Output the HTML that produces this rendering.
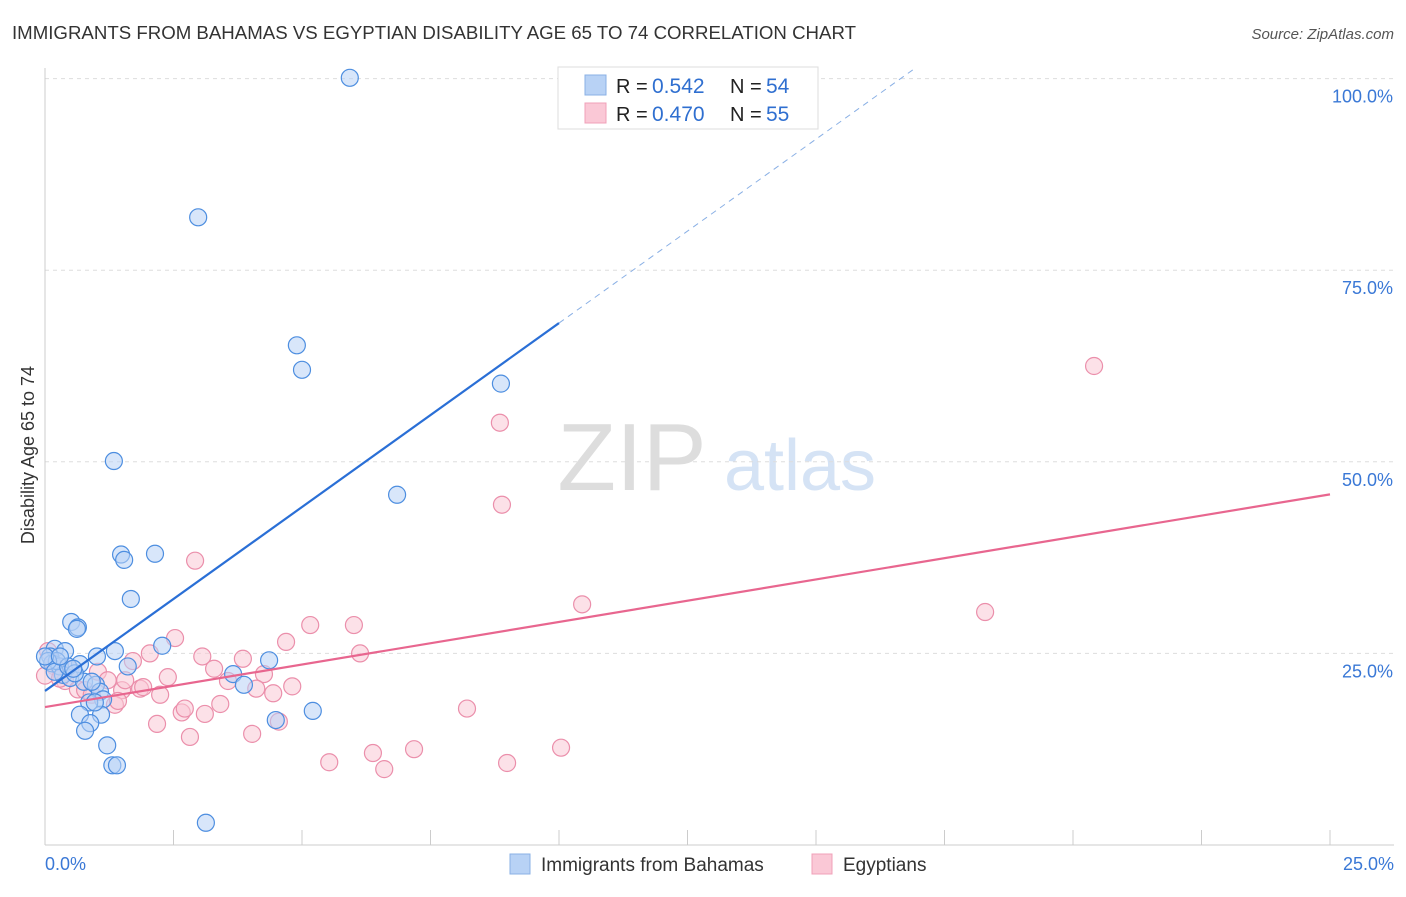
<!DOCTYPE html>
<html><head><meta charset="utf-8"><style>
body{margin:0;background:#fff;font-family:"Liberation Sans",sans-serif;}
svg text{font-family:"Liberation Sans",sans-serif;}
</style></head><body>
<svg id="c" width="1406" height="892" xmlns="http://www.w3.org/2000/svg">
<text x="12" y="39" font-size="18" fill="#333" textLength="844" lengthAdjust="spacingAndGlyphs">IMMIGRANTS FROM BAHAMAS VS EGYPTIAN DISABILITY AGE 65 TO 74 CORRELATION CHART</text>
<text x="1394" y="39" font-size="15" fill="#555" font-style="italic" text-anchor="end">Source: ZipAtlas.com</text>
<g><text x="632" y="490" font-size="96" fill="#ddd" text-anchor="middle" font-family="Liberation Serif">ZIP</text><text x="800" y="490" font-size="72" fill="#d5e3f5" text-anchor="middle">atlas</text></g>
<g id="grid"></g><g id="axes"></g><g id="marks"></g>
<text transform="translate(34,455) rotate(-90)" font-size="18" fill="#333" text-anchor="middle">Disability Age 65 to 74</text>
<g>
<rect x="558" y="67" width="260" height="62" fill="#fff" stroke="#ddd"/>
<rect x="585" y="75" width="21" height="20" fill="#b8d2f5" stroke="#8ab0e5"/>
<rect x="585" y="103" width="21" height="20" fill="#fac8d6" stroke="#f0a0b8"/>
<text x="616" y="93" font-size="20" fill="#222">R =</text><text x="652" y="93" font-size="21" fill="#2f6fd0">0.542</text>
<text x="730" y="93" font-size="20" fill="#222">N =</text><text x="766" y="93" font-size="21" fill="#2f6fd0">54</text>
<text x="616" y="121" font-size="20" fill="#222">R =</text><text x="652" y="121" font-size="21" fill="#2f6fd0">0.470</text>
<text x="730" y="121" font-size="20" fill="#222">N =</text><text x="766" y="121" font-size="21" fill="#2f6fd0">55</text>
</g>
<g>
<rect x="510" y="854" width="20" height="20" fill="#b8d2f5" stroke="#8ab0e5"/>
<text x="541" y="871" font-size="19" fill="#333">Immigrants from Bahamas</text>
<rect x="812" y="854" width="20" height="20" fill="#fac8d6" stroke="#f0a0b8"/>
<text x="843" y="871" font-size="19" fill="#333">Egyptians</text>
</g>
</svg>
<script>
const xTicks=[0,25];
const yTicks=[25,50,75,100];
const blueX=[5.93,2.98,4.90,5.00,8.87,1.34,6.85,1.48,1.54,2.14,1.67,0.51,0.64,0.62,2.28,1.36,1.01,0.19,0.39,0.1,0.14,0.29,0.68,1.61,4.36,3.66,3.87,0.35,0.49,0.76,0.99,1.07,1.13,0.86,1.09,0.68,0.88,0.78,1.21,1.31,1.4,4.49,5.21,3.13,0.23,0.06,0.19,0.45,0.58,0.91,0.0,0.29,0.97,0.55];
const blueY=[100.1,81.9,65.2,62.0,60.2,50.1,45.7,37.9,37.2,38.0,32.1,29.1,28.4,28.2,26.0,25.3,24.6,25.6,25.3,24.6,23.7,23.3,23.6,23.3,24.1,22.3,20.9,22.2,21.8,21.3,20.9,20.0,19.0,18.6,17.0,17.0,15.9,14.9,13.0,10.4,10.4,16.3,17.5,2.9,24.0,24.0,22.6,23.3,22.4,21.3,24.6,24.6,18.6,23.0];
const pinkX=[20.41,8.85,8.89,2.92,10.45,18.29,2.53,5.16,6.01,4.69,2.04,3.06,3.85,6.13,1.71,0.06,0.19,0.49,0.39,0.64,1.03,1.22,1.5,1.85,2.24,2.39,3.29,3.56,4.26,4.11,4.44,4.81,1.91,1.56,1.36,2.66,2.72,3.11,3.41,2.18,2.82,4.03,4.55,8.21,5.53,6.38,6.6,7.18,8.99,10.04,0.0,0.29,0.78,0.91,1.42];
const pinkY=[62.5,55.1,44.4,37.1,31.4,30.4,27.0,28.7,28.7,26.5,25.0,24.6,24.3,25.0,24.0,25.3,23.3,22.9,21.4,20.3,22.6,21.5,20.2,20.4,19.6,21.9,23.0,21.4,22.3,20.4,19.8,20.7,20.6,21.5,18.3,17.3,17.8,17.1,18.4,15.8,14.1,14.5,16.1,17.8,10.8,12.0,9.9,12.5,10.7,12.7,22.1,21.7,20.2,19.6,18.8];
const blueTrend=[20.1,4.8];
const pinkTrend=[18.0,1.11];
const X=v=>45+v/25*1285, Y=v=>845-v/100*766.4;
const NS="http://www.w3.org/2000/svg";
function mk(t,a,p){const e=document.createElementNS(NS,t);for(const k in a)e.setAttribute(k,a[k]);document.getElementById(p).appendChild(e);return e;}
yTicks.forEach(t=>{
 const g=mk('line',{x1:45,x2:1394,y1:Y(t),y2:Y(t),stroke:'#ddd','stroke-dasharray':'4,4'},'grid');
 
 
 const l=mk('text',{x:1393,y:Y(t)+24,'font-size':18,fill:'#3a78d6','text-anchor':'end'},'axes');l.textContent=t.toFixed(1)+'%';
 
 
});
mk('line',{x1:45,x2:45,y1:68,y2:845,stroke:'#ccc'},'axes');
mk('line',{x1:45,x2:1394,y1:845,y2:845,stroke:'#ccc'},'axes');
for(let i=1;i<=10;i++){mk('line',{x1:X(i*2.5),x2:X(i*2.5),y1:830,y2:845,stroke:'#ccc'},'axes');}
xTicks.forEach((t,i)=>{const l=mk('text',{x:i?1394:45,y:870,'font-size':18,fill:'#3a78d6','text-anchor':i?'end':'start'},'axes');l.textContent=t.toFixed(1)+'%';
 
 });
function dots(xs,ys,f,s,name){xs.forEach((x,i)=>{const c=mk('circle',{cx:X(x),cy:Y(ys[i]),r:8.5,fill:f,'fill-opacity':0.55,stroke:s,'stroke-width':1.2},'marks');
 
 });}
dots(pinkX,pinkY,'#fac8d6','#eb8fab','egyptian-point');
dots(blueX,blueY,'#b8d2f5','#4d8ee0','bahamas-point');
const [ba,bb]=blueTrend,[pa,pb]=pinkTrend;
let l1=mk('line',{x1:X(0),y1:Y(ba),x2:X(10),y2:Y(ba+bb*10),stroke:'#2a6fd6','stroke-width':2.2},'marks');


const xe=(101.5-ba)/bb;
let l2=mk('line',{x1:X(10),y1:Y(ba+bb*10),x2:X(xe),y2:Y(ba+bb*xe),stroke:'#8ab0e5','stroke-width':1,'stroke-dasharray':'6,5'},'marks');


let l3=mk('line',{x1:X(0),y1:Y(pa),x2:X(25),y2:Y(pa+pb*25),stroke:'#e8668f','stroke-width':2.2},'marks');


</script>
</body></html>
